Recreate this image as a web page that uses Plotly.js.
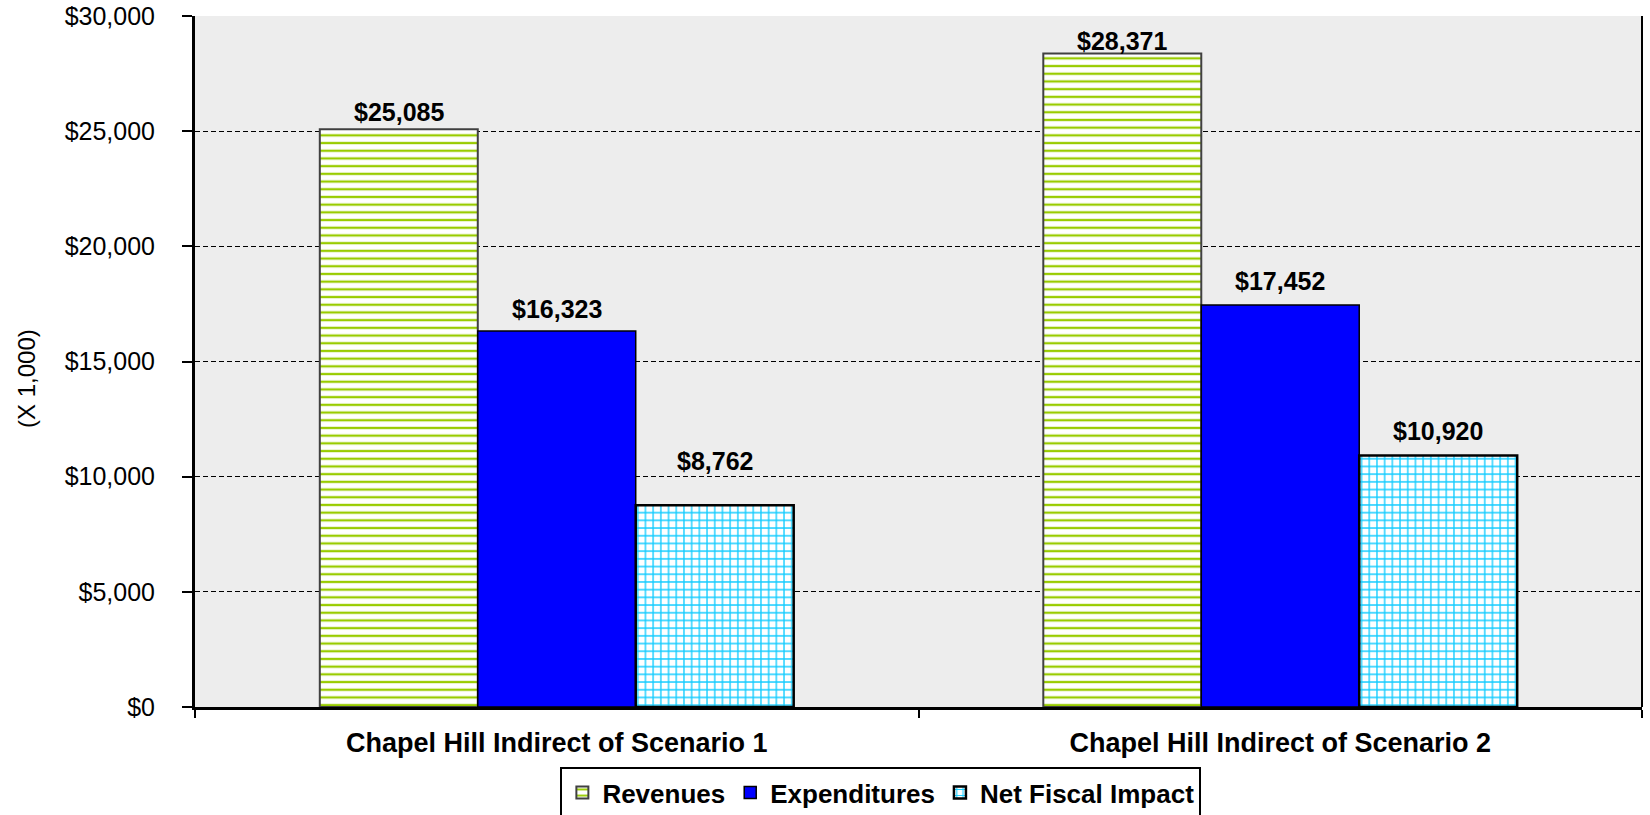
<!DOCTYPE html>
<html>
<head>
<meta charset="utf-8">
<script src="https://cdn.plot.ly/plotly-3.0.1.min.js"></script>
<style>
  html, body { margin: 0; padding: 0; background: #ffffff; }
  #chart { width: 1650px; height: 815px; }
</style>
</head>
<body>
<div id="chart"></div>
<script>
// ---- Data ----
const categories = ["Chapel Hill Indirect of Scenario 1", "Chapel Hill Indirect of Scenario 2"];
const seriesNames = ["Revenues", "Expenditures", "Net Fiscal Impact"];
const revenues = [25085, 28371];
const expenditures = [16323, 17452];
const netFiscalImpact = [8762, 10920];
const yTickValues = [0, 5000, 10000, 15000, 20000, 25000, 30000];
const yTickLabels = yTickValues.map(v => "$" + v.toLocaleString("en-US"));

// ---- Style ----
const FONT = "Liberation Sans, Arial, Helvetica, sans-serif";
const BARGAP = 0.345;
// distance (px) from bar top to label centre, per series / category
const labelLift = [[17, 13], [22, 24], [44, 24]];

const seriesValues = [revenues, expenditures, netFiscalImpact];
const markers = [
  { color: "#ffffff", line: { color: "#404040", width: 2 },
    pattern: { shape: "-", fgcolor: "#99CC00", bgcolor: "#ffffff", size: 7.7, solidity: 0.3 } },
  { color: "#0000FF", line: { color: "#000000", width: 1.5 } },
  { color: "#ffffff", line: { color: "#000000", width: 2.5 },
    pattern: { shape: "+", fgcolor: "#11CCFF", bgcolor: "#ffffff", size: 7.7, solidity: 0.32 } }
];

const traces = seriesNames.map((name, i) => ({
  type: "bar",
  name: name,
  x: categories,
  y: seriesValues[i],
  marker: markers[i],
  hovertemplate: name + ": $%{y:,}<extra></extra>"
}));

const barW = (1 - BARGAP) / seriesNames.length;
const annotations = [];
seriesValues.forEach((vals, si) => {
  vals.forEach((v, ci) => {
    annotations.push({
      xref: "x", yref: "y",
      x: ci + (si - (seriesNames.length - 1) / 2) * barW,
      y: v,
      xanchor: "center",
      yanchor: "middle",
      yshift: labelLift[si][ci],
      text: "$" + v.toLocaleString("en-US"),
      showarrow: false,
      font: { family: FONT, size: 25, color: "#000000", weight: "bold" }
    });
  });
});
annotations.push({
  xref: "paper", yref: "paper",
  x: -0.116, y: 0.475,
  xanchor: "center", yanchor: "middle",
  text: "(X 1,000)",
  textangle: -90,
  showarrow: false,
  font: { family: FONT, size: 24, color: "#000000" }
});

const layout = {
  width: 1650,
  height: 815,
  margin: { l: 195, r: 8, t: 16, b: 108, pad: 0, autoexpand: false },
  paper_bgcolor: "#ffffff",
  plot_bgcolor: "#EDEDED",
  barmode: "group",
  bargap: BARGAP,
  bargroupgap: 0,
  font: { family: FONT, color: "#000000" },
  showlegend: true,
  legend: {
    orientation: "h",
    x: 0.474, xanchor: "center",
    y: -0.087, yanchor: "top",
    bgcolor: "#ffffff",
    bordercolor: "#000000",
    borderwidth: 2,
    font: { family: FONT, size: 26, color: "#000000", weight: "bold" },
    traceorder: "normal"
  },
  xaxis: {
    type: "category",
    tickson: "boundaries",
    ticks: "outside",
    ticklen: 8,
    tickwidth: 2,
    tickcolor: "#000000",
    showline: true,
    linecolor: "#000000",
    linewidth: 3,
    showgrid: false,
    zeroline: false,
    ticklabelstandoff: 10,
    tickfont: { family: FONT, size: 27, color: "#000000", weight: "bold" }
  },
  yaxis: {
    range: [0, 30000],
    tickmode: "array",
    tickvals: yTickValues,
    ticktext: yTickLabels,
    ticks: "outside",
    ticklen: 10,
    tickwidth: 2,
    tickcolor: "#000000",
    showline: true,
    linecolor: "#000000",
    linewidth: 3,
    showgrid: true,
    gridcolor: "#000000",
    gridwidth: 1.2,
    griddash: "5px,3px",
    zeroline: false,
    ticklabelstandoff: 22,
    tickfont: { family: FONT, size: 25, color: "#000000" }
  },
  shapes: [
    { type: "line", xref: "paper", yref: "paper", x0: 1, x1: 1, y0: 0, y1: 1,
      line: { color: "#000000", width: 2 } }
  ],
  annotations: annotations
};

Plotly.newPlot("chart", traces, layout, { displayModeBar: false, responsive: false });
</script>
</body>
</html>
